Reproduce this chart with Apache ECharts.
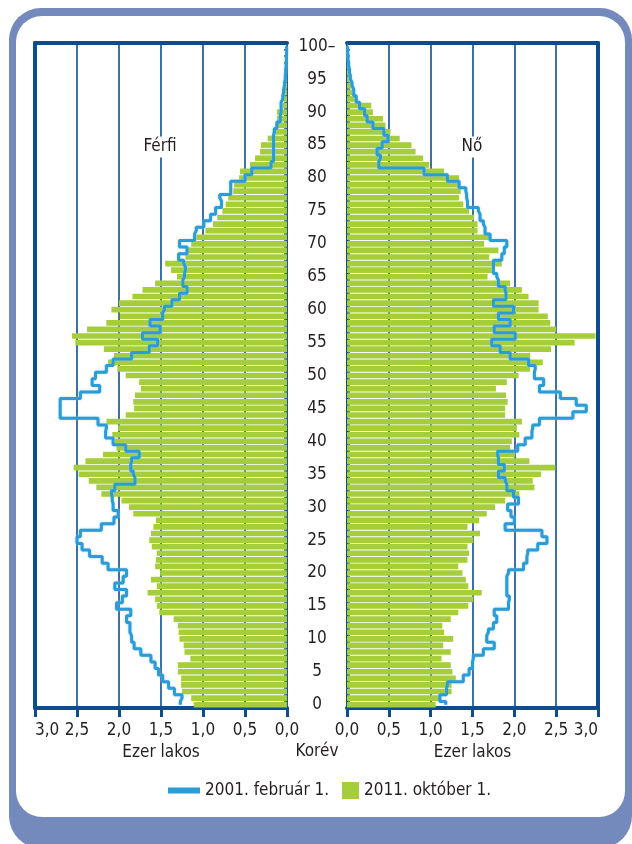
<!DOCTYPE html>
<html>
<head>
<meta charset="utf-8">
<script src="https://cdn.jsdelivr.net/npm/echarts@6/dist/echarts.min.js"></script>
<style>
  html, body { margin: 0; padding: 0; background: #fff; overflow: hidden; }
  #frame { position: absolute; left: 9px; top: 8px; width: 623px; height: 840px; background: #7489bc; border-radius: 32px; }
  #panel { position: absolute; left: 16px; top: 16px; width: 609px; height: 801px; background: #fff; border-radius: 26px; }
  #chart { position: absolute; left: 0; top: 0; width: 632px; height: 844px; }
</style>
</head>
<body>
<div id="frame"></div>
<div id="panel"></div>
<div id="chart"></div>
<script>
// age groups, 0 ... 100 and over
var ages = ['0','1','2','3','4','5','6','7','8','9',
  '10','11','12','13','14','15','16','17','18','19',
  '20','21','22','23','24','25','26','27','28','29',
  '30','31','32','33','34','35','36','37','38','39',
  '40','41','42','43','44','45','46','47','48','49',
  '50','51','52','53','54','55','56','57','58','59',
  '60','61','62','63','64','65','66','67','68','69',
  '70','71','72','73','74','75','76','77','78','79',
  '80','81','82','83','84','85','86','87','88','89',
  '90','91','92','93','94','95','96','97','98','99','100–'];

// thousand people, men, 2011 census (bars)
var male2011 = [1.11, 1.14, 1.25, 1.26, 1.26, 1.30, 1.30, 1.15, 1.22, 1.23,
  1.28, 1.29, 1.30, 1.35, 1.52, 1.55, 1.57, 1.66, 1.55, 1.62,
  1.51, 1.57, 1.56, 1.55, 1.61, 1.64, 1.62, 1.59, 1.56, 1.83,
  1.88, 1.97, 2.21, 2.27, 2.36, 2.48, 2.54, 2.40, 2.19, 2.03,
  2.05, 2.08, 2.01, 2.15, 1.92, 1.82, 1.83, 1.81, 1.74, 1.76,
  1.92, 2.02, 2.13, 2.06, 2.18, 2.52, 2.56, 2.38, 2.15, 1.99,
  2.09, 2.00, 1.84, 1.72, 1.57, 1.31, 1.38, 1.45, 1.21, 1.19,
  1.14, 1.08, 0.97, 0.88, 0.83, 0.77, 0.73, 0.70, 0.64, 0.63,
  0.57, 0.56, 0.44, 0.38, 0.32, 0.31, 0.23, 0.17, 0.14, 0.12,
  0.12, 0.05, 0.04, 0.03, 0.02, 0.012, 0.008, 0.005, 0.003, 0.002, 0.002];

// men, 2001 census (step line)
var male2001 = [1.27, 1.25, 1.34, 1.41, 1.48, 1.53, 1.57, 1.62, 1.74, 1.82,
  1.85, 1.87, 1.87, 1.91, 1.86, 2.03, 1.96, 1.91, 2.05, 1.95,
  1.91, 2.13, 2.20, 2.35, 2.44, 2.50, 2.46, 2.21, 2.06, 2.01,
  2.07, 2.08, 2.09, 2.05, 1.81, 1.83, 1.86, 1.85, 1.76, 1.92,
  2.07, 2.16, 2.15, 2.25, 2.70, 2.70, 2.70, 2.46, 2.23, 2.32,
  2.28, 2.15, 2.07, 1.85, 1.64, 1.54, 1.72, 1.51, 1.63, 1.48,
  1.46, 1.37, 1.28, 1.19, 1.24, 1.22, 1.21, 1.23, 1.29, 1.19,
  1.28, 1.10, 1.08, 0.99, 0.91, 0.85, 0.78, 0.80, 0.67, 0.67,
  0.50, 0.42, 0.19, 0.16, 0.16, 0.16, 0.16, 0.15, 0.12, 0.08,
  0.07, 0.07, 0.05, 0.04, 0.03, 0.02, 0.015, 0.01, 0.007, 0.005, 0.005];

// women, 2011 census (bars)
var female2011 = [1.06, 1.12, 1.25, 1.25, 1.30, 1.26, 1.24, 1.13, 1.24, 1.15,
  1.27, 1.16, 1.14, 1.24, 1.33, 1.45, 1.51, 1.61, 1.45, 1.42,
  1.38, 1.33, 1.44, 1.46, 1.44, 1.51, 1.59, 1.44, 1.58, 1.67,
  1.77, 1.89, 2.06, 2.24, 2.22, 2.32, 2.49, 2.18, 2.01, 1.95,
  1.97, 2.06, 2.03, 2.09, 1.89, 1.89, 1.92, 1.90, 1.78, 1.91,
  2.05, 2.19, 2.34, 2.19, 2.44, 2.72, 2.97, 2.50, 2.43, 2.40,
  2.29, 2.29, 2.17, 2.09, 1.95, 1.68, 1.73, 1.85, 1.70, 1.81,
  1.64, 1.70, 1.56, 1.56, 1.52, 1.46, 1.39, 1.34, 1.36, 1.34,
  1.34, 1.16, 0.98, 0.91, 0.82, 0.77, 0.63, 0.52, 0.46, 0.43,
  0.31, 0.29, 0.11, 0.06, 0.05, 0.03, 0.02, 0.015, 0.01, 0.005, 0.005];

// women, 2001 census (step line)
var female2001 = [1.18, 1.11, 1.19, 1.20, 1.39, 1.46, 1.50, 1.51, 1.63, 1.76,
  1.67, 1.69, 1.75, 1.79, 1.76, 1.93, 1.94, 1.91, 1.91, 1.91,
  1.93, 2.11, 2.15, 2.16, 2.28, 2.39, 2.33, 1.89, 2.00, 1.96,
  1.92, 2.05, 1.99, 1.91, 1.89, 1.81, 1.88, 1.81, 1.80, 2.04,
  2.13, 2.21, 2.22, 2.30, 2.70, 2.86, 2.74, 2.55, 2.30, 2.35,
  2.24, 2.25, 2.17, 1.95, 1.83, 1.73, 2.01, 1.76, 1.95, 1.81,
  1.99, 1.75, 1.90, 1.89, 1.81, 1.79, 1.75, 1.75, 1.85, 1.88,
  1.91, 1.71, 1.65, 1.63, 1.59, 1.57, 1.44, 1.43, 1.42, 1.34,
  1.20, 0.92, 0.38, 0.40, 0.36, 0.42, 0.49, 0.44, 0.31, 0.24,
  0.21, 0.15, 0.11, 0.08, 0.06, 0.04, 0.03, 0.02, 0.012, 0.008, 0.005];

var NAVY = '#0d4c8f';
var GRIDC = '#0f4d8f';
var GREEN = '#a6cd3a';
var BLUE = '#2b9dd6';
var TXT = '#231f20';
var FONT = "'Liberation Sans Narrow', 'DejaVu Sans Condensed', 'Noto Sans', sans-serif";
var FS = 17;

function fmt(v) {
  return v.toFixed(1).replace('.', ',');
}

function valueAxis(grid, inverse, alignMax) {
  return {
    gridIndex: grid, type: 'value', inverse: inverse,
    min: 0, max: 3, interval: 0.5, position: 'bottom',
    axisLine: { show: true, onZero: false, lineStyle: { color: NAVY, width: 4 } },
    axisTick: { show: true, length: 9, lineStyle: { color: NAVY, width: 3 } },
    axisLabel: { margin: 14, fontSize: FS, fontFamily: FONT, color: TXT, formatter: fmt, alignMaxLabel: alignMax },
    splitLine: { show: true, lineStyle: { color: GRIDC, width: 1.6 } },
    name: 'Ezer lakos', nameLocation: 'middle', nameGap: 35,
    nameTextStyle: { fontSize: FS, fontFamily: FONT, color: TXT }
  };
}

function topAxis(grid, inverse) {
  return {
    gridIndex: grid, type: 'value', inverse: inverse, min: 0, max: 3, position: 'top',
    axisLine: { show: true, onZero: false, lineStyle: { color: NAVY, width: 4 } },
    axisTick: { show: false }, axisLabel: { show: false }, splitLine: { show: false }
  };
}

function edgeAxis(grid, pos) {
  return {
    gridIndex: grid, type: 'category', data: ages, position: pos,
    axisLine: { show: true, onZero: false, lineStyle: { color: NAVY, width: 4 } },
    axisTick: { show: false }, axisLabel: { show: false }, splitLine: { show: false }
  };
}

var chart = echarts.init(document.getElementById('chart'));
chart.setOption({
  animation: false,
  grid: [
    { left: 35, top: 43, width: 252, height: 665 },
    { left: 347, top: 43, width: 251, height: 665 }
  ],
  xAxis: [
    valueAxis(0, true, 'left'),
    topAxis(0, true),
    valueAxis(1, false, 'right'),
    topAxis(1, false)
  ],
  yAxis: [
    {
      gridIndex: 0, type: 'category', data: ages, position: 'right',
      axisLine: { show: true, onZero: false, lineStyle: { color: NAVY, width: 1.5 } },
      axisTick: { show: true, inside: true, length: 3, interval: 0, lineStyle: { color: NAVY, width: 1.5 } },
      axisLabel: { show: false }
    },
    edgeAxis(0, 'left'),
    {
      gridIndex: 1, type: 'category', data: ages, position: 'left',
      axisLine: { show: true, onZero: false, lineStyle: { color: NAVY, width: 2 } },
      axisTick: { show: true, inside: true, length: 3, interval: 0, lineStyle: { color: NAVY, width: 1.5 } },
      axisLabel: { interval: 4, margin: 30, align: 'center', fontSize: FS, fontFamily: FONT, color: TXT }
    },
    edgeAxis(1, 'right')
  ],
  legend: [
    {
      data: [{ name: '2001. február 1.', icon: 'rect' }],
      left: 163, top: 777, itemWidth: 32, itemHeight: 6, selectedMode: false,
      textStyle: { fontSize: FS, fontFamily: FONT, color: TXT }
    },
    {
      data: [{ name: '2011. október 1.', icon: 'rect' }],
      left: 337, top: 777, itemWidth: 17, itemHeight: 17, selectedMode: false,
      textStyle: { fontSize: FS, fontFamily: FONT, color: TXT }
    }
  ],
  graphic: [
    { type: 'text', x: 160, y: 147, z: 100,
      style: { text: 'Férfi', fill: TXT, font: FS + 'px ' + FONT, align: 'center', verticalAlign: 'middle', backgroundColor: '#fff', padding: [2, 3] } },
    { type: 'text', x: 472, y: 147, z: 100,
      style: { text: 'Nő', fill: TXT, font: FS + 'px ' + FONT, align: 'center', verticalAlign: 'middle', backgroundColor: '#fff', padding: [2, 3] } },
    { type: 'text', x: 317, y: 752, z: 100,
      style: { text: 'Korév', fill: TXT, font: FS + 'px ' + FONT, align: 'center', verticalAlign: 'middle' } }
  ],
  series: [
    { name: '2011. október 1.', type: 'bar', xAxisIndex: 0, yAxisIndex: 0, data: male2011,
      barCategoryGap: '14%', itemStyle: { color: GREEN }, silent: true },
    { name: '2001. február 1.', type: 'line', xAxisIndex: 0, yAxisIndex: 0, data: male2001,
      step: 'middle', symbol: 'none', z: 5, silent: true,
      lineStyle: { color: BLUE, width: 3, shadowColor: 'rgba(140,200,240,0.9)', shadowBlur: 2 },
      itemStyle: { color: BLUE } },
    { name: '2011. október 1.', type: 'bar', xAxisIndex: 2, yAxisIndex: 2, data: female2011,
      barCategoryGap: '14%', itemStyle: { color: GREEN }, silent: true },
    { name: '2001. február 1.', type: 'line', xAxisIndex: 2, yAxisIndex: 2, data: female2001,
      step: 'middle', symbol: 'none', z: 5, silent: true,
      lineStyle: { color: BLUE, width: 3, shadowColor: 'rgba(140,200,240,0.9)', shadowBlur: 2 },
      itemStyle: { color: BLUE } }
  ]
});
</script>
</body>
</html>
